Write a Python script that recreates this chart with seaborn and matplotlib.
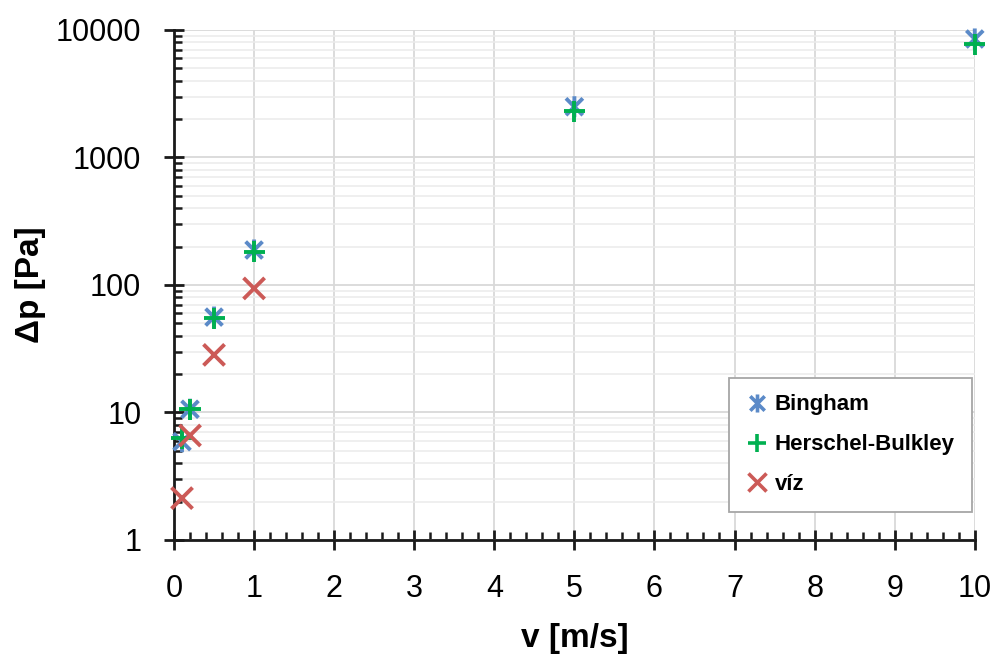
import numpy as np
import pandas as pd
import matplotlib
matplotlib.use("Agg")
import matplotlib.pyplot as plt
from matplotlib.path import Path
from matplotlib.ticker import MultipleLocator, LogLocator, NullFormatter, FuncFormatter
from matplotlib.lines import Line2D
import seaborn as sns

# ---- data ----
v_bingham = [0.1, 0.2, 0.5, 1, 5, 10]
dp_bingham = [5.9, 10.6, 56, 188, 2500, 8500]
v_hb = [0.1, 0.2, 0.5, 1, 5, 10]
dp_hb = [6.3, 10.6, 55, 182, 2300, 7700]
v_water = [0.1, 0.2, 0.5, 1]
dp_water = [2.13, 6.6, 28.3, 94]
series_names = ["Bingham", "Herschel-Bulkley", "víz"]
colors = {"Bingham": "#5B8AC8", "Herschel-Bulkley": "#00B050", "víz": "#CC5A57"}

df = pd.concat([
    pd.DataFrame({"v": v_bingham, "dp": dp_bingham, "s": "Bingham"}),
    pd.DataFrame({"v": v_hb, "dp": dp_hb, "s": "Herschel-Bulkley"}),
    pd.DataFrame({"v": v_water, "dp": dp_water, "s": "víz"}),
], ignore_index=True)

M, L = Path.MOVETO, Path.LINETO
star = Path([(-1, -1), (1, 1), (-1, 1), (1, -1), (0, -1.25), (0, 1.25)], [M, L, M, L, M, L])
plus = Path([(-1, 0), (1, 0), (0, -1), (0, 1)], [M, L, M, L])
cross = Path([(-1, -1), (1, 1), (-1, 1), (1, -1)], [M, L, M, L])
markers = {"Bingham": star, "Herschel-Bulkley": plus, "víz": cross}

sns.set_theme(style="white")
plt.rcParams["font.family"] = ["Liberation Sans", "DejaVu Sans"]
plt.rcParams["text.color"] = "black"
plt.rcParams["axes.labelcolor"] = "black"
plt.rcParams["xtick.color"] = "black"
plt.rcParams["ytick.color"] = "black"

fig = plt.figure(figsize=(9.96, 6.55), dpi=100)
ax = fig.add_axes([0.1747, 0.1756, 0.804, 0.7786])

for name in series_names:
    sub = df[df.s == name]
    sns.scatterplot(data=sub, x="v", y="dp", ax=ax, marker=markers[name], s=230,
                    facecolor="none", edgecolor=colors[name], linewidth=2.8,
                    clip_on=False, zorder=3, legend=False)

ax.set_yscale("log")
ax.set_xlim(0, 10)
ax.set_ylim(1, 10000)

ax.xaxis.set_major_locator(MultipleLocator(1))
ax.xaxis.set_minor_locator(MultipleLocator(0.2))
ax.yaxis.set_major_locator(LogLocator(base=10, numticks=10))
ax.yaxis.set_minor_locator(LogLocator(base=10, subs=np.arange(2, 10), numticks=20))
ax.yaxis.set_minor_formatter(NullFormatter())
ax.yaxis.set_major_formatter(FuncFormatter(lambda y, p: f"{int(round(y))}"))

ax.grid(True, which="major", axis="x", color="#D9D9D9", linewidth=1.3)
ax.grid(True, which="major", axis="y", color="#D9D9D9", linewidth=1.3)
ax.grid(True, which="minor", axis="y", color="#EBEBEB", linewidth=1.1)
ax.set_axisbelow(True)

for side in ["top", "right"]:
    ax.spines[side].set_visible(False)
for side in ["left", "bottom"]:
    ax.spines[side].set_color("#1A1A1A")
    ax.spines[side].set_linewidth(2)

ax.tick_params(axis="both", which="both", bottom=True, left=True, top=False, right=False)
ax.tick_params(axis="both", which="major", direction="inout", length=15, width=2,
               color="#1A1A1A", labelsize=22, labelcolor="black")
ax.tick_params(axis="both", which="minor", direction="in", length=6, width=1.8,
               color="#1A1A1A")
ax.tick_params(axis="x", which="major", pad=17)
ax.tick_params(axis="y", which="major", pad=16)

ax.set_xlabel("v [m/s]", fontsize=24, fontweight="bold", labelpad=14, color="black")
ax.set_ylabel("Δp [Pa]", fontsize=24, fontweight="bold", labelpad=7, color="black")

handles = [Line2D([], [], linestyle="none", marker=markers[n], markersize=13,
                  markeredgecolor=colors[n], markerfacecolor="none", markeredgewidth=2.6)
           for n in series_names]
leg = ax.legend(handles, series_names, loc="lower right", bbox_to_anchor=(0.996, 0.055),
                borderaxespad=0,
                frameon=True, fancybox=False, edgecolor="#A6A6A6", framealpha=1,
                prop={"weight": "bold", "size": 16}, handletextpad=0.3,
                labelspacing=0.85, borderpad=0.75, handlelength=1.0)
leg.get_frame().set_linewidth(1.3)
for t in leg.get_texts():
    t.set_color("black")

fig.savefig("out.png", dpi=100)
